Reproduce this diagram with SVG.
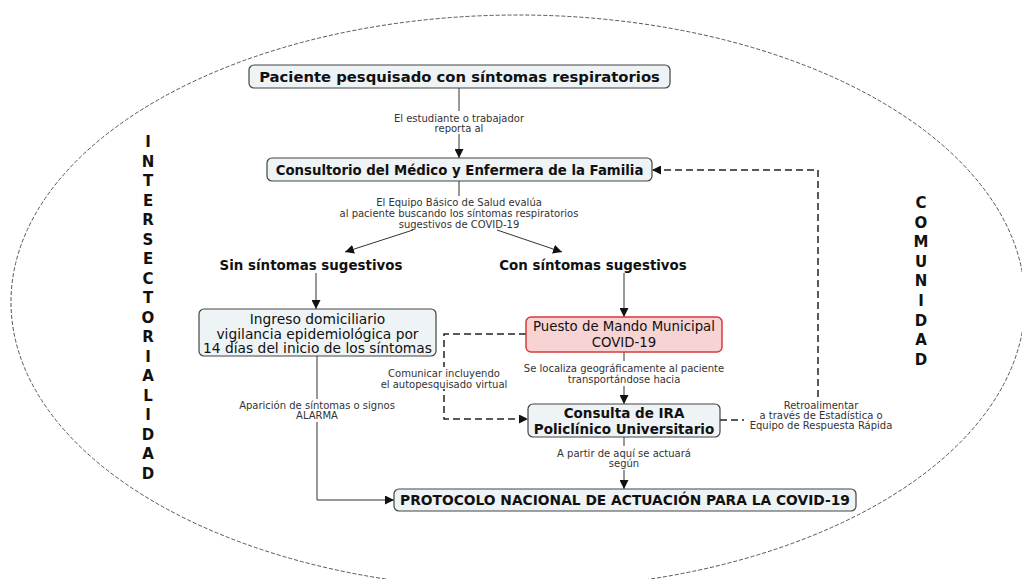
<svg xmlns="http://www.w3.org/2000/svg" width="1022" height="579" viewBox="0 0 1022 579">
<defs>
<style>
.node{fill:#eef3f5;stroke:#444;stroke-width:1.2}
.red{fill:#f8d3d3;stroke:#d43c3c;stroke-width:1.5}
.t{font-family:"DejaVu Sans",Verdana,sans-serif;fill:#111;text-anchor:middle}
.b{font-weight:bold}
.lbl{font-family:"DejaVu Sans",Verdana,sans-serif;font-size:10px;fill:#333;text-anchor:middle}
.ln{fill:none;stroke:#333;stroke-width:1}
.dash{fill:none;stroke:#222;stroke-width:1.5;stroke-dasharray:7,4}
.side{font-family:"DejaVu Sans",Verdana,sans-serif;font-weight:bold;font-size:15px;fill:#111;text-anchor:middle}
</style>
<marker id="ah" viewBox="0 0 10 10" refX="10" refY="5" markerWidth="9" markerHeight="9" markerUnits="userSpaceOnUse" orient="auto"><path d="M0,0 L10,5 L0,10 z" fill="#111"/></marker>
</defs>
<rect width="1022" height="579" fill="#fff"/>
<ellipse cx="518" cy="302" rx="507" ry="287" fill="none" stroke="#555" stroke-width="1" stroke-dasharray="4,2"/>

<g id="side-left">
<text class="side"><tspan x="148" y="147">I</tspan><tspan x="148" y="166.5">N</tspan><tspan x="148" y="186">T</tspan><tspan x="148" y="205.5">E</tspan><tspan x="148" y="225">R</tspan><tspan x="148" y="244.5">S</tspan><tspan x="148" y="264">E</tspan><tspan x="148" y="283.5">C</tspan><tspan x="148" y="303">T</tspan><tspan x="148" y="322.5">O</tspan><tspan x="148" y="342">R</tspan><tspan x="148" y="361.5">I</tspan><tspan x="148" y="381">A</tspan><tspan x="148" y="400.5">L</tspan><tspan x="148" y="420">I</tspan><tspan x="148" y="439.5">D</tspan><tspan x="148" y="459">A</tspan><tspan x="148" y="478.5">D</tspan></text>
</g>
<g id="side-right">
<text class="side"><tspan x="921" y="208">C</tspan><tspan x="921" y="227.6">O</tspan><tspan x="921" y="247.2">M</tspan><tspan x="921" y="266.8">U</tspan><tspan x="921" y="286.4">N</tspan><tspan x="921" y="306">I</tspan><tspan x="921" y="325.6">D</tspan><tspan x="921" y="345.2">A</tspan><tspan x="921" y="364.8">D</tspan></text>
</g>

<g id="connectors">
<path class="ln" d="M459,88 V111"/>
<path class="ln" d="M459,134 V158" marker-end="url(#ah)"/>
<text class="lbl"><tspan x="459" y="122">El estudiante o trabajador</tspan><tspan x="459" y="132">reporta al</tspan></text>

<path class="ln" d="M459,181 V196"/>
<text class="lbl"><tspan x="459" y="206">El Equipo Básico de Salud evalúa</tspan><tspan x="459" y="217">al paciente buscando los síntomas respiratorios</tspan><tspan x="459" y="228">sugestivos de COVID-19</tspan></text>
<path class="ln" d="M413,230 L345,252" marker-end="url(#ah)"/>
<path class="ln" d="M497,230 L562,252" marker-end="url(#ah)"/>

<path class="ln" d="M316,273 V309" marker-end="url(#ah)"/>
<path class="ln" d="M624,273 V317" marker-end="url(#ah)"/>

<path class="ln" d="M624,352 V361"/>
<text class="lbl"><tspan x="624" y="372">Se localiza geográficamente al paciente</tspan><tspan x="624" y="383">transportándose hacia</tspan></text>
<path class="ln" d="M624,386 V404" marker-end="url(#ah)"/>

<path class="dash" d="M526,334 H444 V419 H528" marker-end="url(#ah)"/>
<rect x="380" y="367" width="128" height="22" fill="#fff"/>
<text class="lbl"><tspan x="444" y="377">Comunicar incluyendo</tspan><tspan x="444" y="388">el autopesquisado virtual</tspan></text>

<path class="dash" d="M720,420 H818 V170 H652" marker-end="url(#ah)"/>
<rect x="744" y="400" width="154" height="32" fill="#fff"/>
<text class="lbl"><tspan x="821" y="409">Retroalimentar</tspan><tspan x="821" y="419">a través de Estadística o</tspan><tspan x="821" y="429">Equipo de Respuesta Rápida</tspan></text>

<path class="ln" d="M624,437 V446"/>
<text class="lbl"><tspan x="624" y="457">A partir de aquí se actuará</tspan><tspan x="624" y="467">según</tspan></text>
<path class="ln" d="M624,470 V489" marker-end="url(#ah)"/>

<path class="ln" d="M317,356 V399"/>
<text class="lbl"><tspan x="317" y="409">Aparición de síntomas o signos</tspan><tspan x="317" y="419">ALARMA</tspan></text>
<path class="ln" d="M317,422 V500 H394" marker-end="url(#ah)"/>
</g>

<g id="n-paciente">
<rect class="node" x="249" y="65" width="421" height="23" rx="5"/>
<text class="t b" x="459.5" y="82" font-size="14.8">Paciente pesquisado con síntomas respiratorios</text>
</g>
<g id="n-consultorio">
<rect class="node" x="267" y="158" width="385" height="23" rx="5"/>
<text class="t b" x="459.5" y="174.5" font-size="13.3">Consultorio del Médico y Enfermera de la Familia</text>
</g>
<g id="n-sin">
<text class="t b" x="311" y="270" font-size="13.4">Sin síntomas sugestivos</text>
</g>
<g id="n-con">
<text class="t b" x="593" y="270" font-size="13.4">Con síntomas sugestivos</text>
</g>
<g id="n-ingreso">
<rect class="node" x="199" y="309" width="237" height="47" rx="5"/>
<text class="t" font-size="13.8"><tspan x="317.5" y="324">Ingreso domiciliario</tspan><tspan x="317.5" y="338.5">vigilancia epidemiológica por</tspan><tspan x="317.5" y="353">14 días del inicio de los síntomas</tspan></text>
</g>
<g id="n-puesto">
<rect class="red" x="526" y="317" width="196" height="35" rx="5"/>
<text class="t" font-size="13.3"><tspan x="624" y="331">Puesto de Mando Municipal</tspan><tspan x="624" y="346.5">COVID-19</tspan></text>
</g>
<g id="n-consulta">
<rect class="node" x="528" y="404" width="192" height="33" rx="5"/>
<text class="t b" font-size="13.5"><tspan x="624" y="418">Consulta de IRA</tspan><tspan x="624" y="433.5">Policlínico Universitario</tspan></text>
</g>
<g id="n-protocolo">
<rect class="node" x="394" y="489" width="462" height="22" rx="5"/>
<text class="t b" x="625" y="505" font-size="13.8">PROTOCOLO NACIONAL DE ACTUACIÓN PARA LA COVID-19</text>
</g>
</svg>
